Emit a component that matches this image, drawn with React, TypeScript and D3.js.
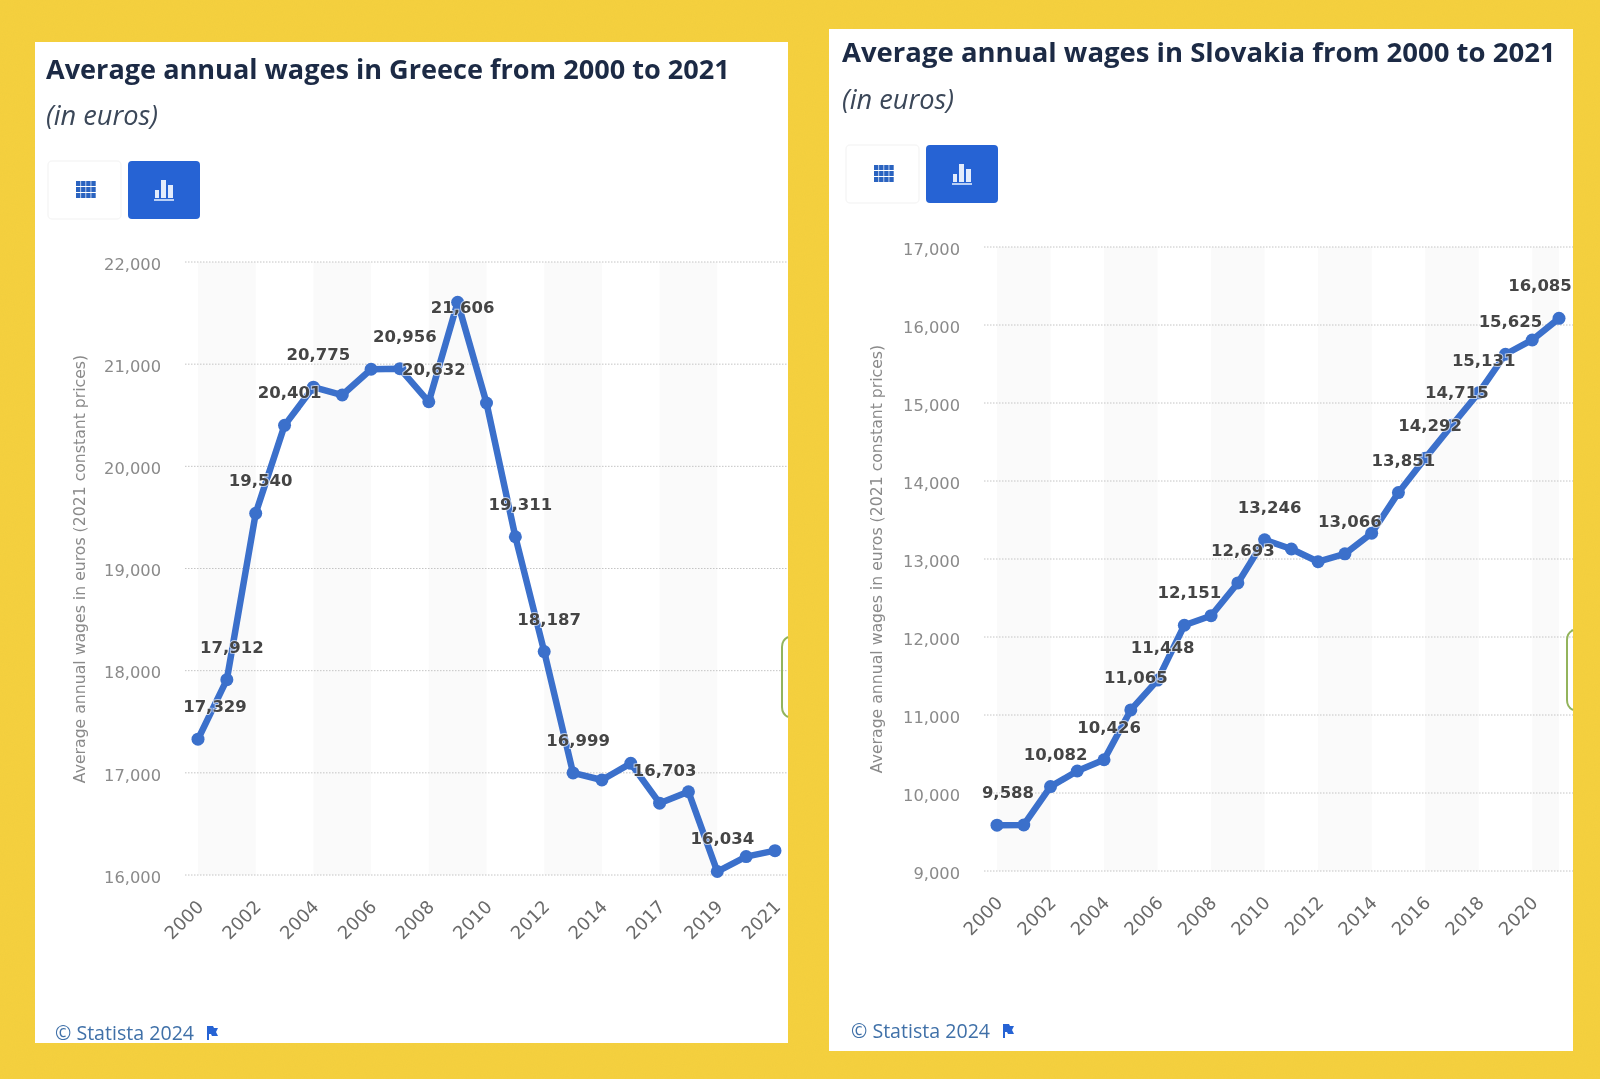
import React, { useEffect, useRef } from 'react';
import * as d3 from 'd3';

const greeceYears = [2000, 2001, 2002, 2003, 2004, 2005, 2006, 2007, 2008, 2009, 2010, 2011, 2012, 2013, 2014, 2015, 2017, 2018, 2019, 2020, 2021];
const greeceWages = [17329, 17912, 19540, 20401, 20775, 20698, 20950, 20956, 20632, 21606, 20620, 19311, 18187, 16999, 16930, 17093, 16703, 16815, 16034, 16180, 16238];
const greeceLabelled = [2000, 2001, 2002, 2003, 2004, 2007, 2008, 2009, 2011, 2012, 2013, 2017, 2019];
const greeceTicks = [16000, 17000, 18000, 19000, 20000, 21000, 22000];

const slovakiaYears = d3.range(2000, 2022);
const slovakiaWages = [9588, 9590, 10082, 10282, 10426, 11065, 11448, 12151, 12273, 12693, 13246, 13128, 12965, 13066, 13330, 13851, 14292, 14715, 15131, 15625, 15808, 16085];
const slovakiaLabelled = [2000, 2002, 2004, 2005, 2006, 2007, 2009, 2010, 2013, 2015, 2016, 2017, 2018, 2019, 2021];
const slovakiaTicks = [9000, 10000, 11000, 12000, 13000, 14000, 15000, 16000, 17000];

const AXIS_FONT = '"DejaVu Sans", sans-serif';
const TITLE_FONT = '"Open Sans", sans-serif';
const BLUE = '#3b6fcb';
const BUTTON_BLUE = '#2563d4';

const panels = [
  {
    title: 'Average annual wages in Greece from 2000 to 2021',
    titleSize: 27.1,
    years: greeceYears,
    wages: greeceWages,
    labelled: greeceLabelled,
    ticks: greeceTicks,
    box: { x: 35, y: 42, w: 753, h: 1001 },
    xRange: [198, 775],
    yRange: [875, 262],
    gridLeft: 185,
    titleBase: 79,
    subBase: 125,
    textX: 46,
    buttonY: 161,
    buttonX: 48,
    axisTitleX: 80,
    axisTitleY: 569,
    footX: 55,
    footBase: 1040,
    firstDx: 17,
    lastDx: 5,
    bracket: 637,
  },
  {
    title: 'Average annual wages in Slovakia from 2000 to 2021',
    titleSize: 27.5,
    years: slovakiaYears,
    wages: slovakiaWages,
    labelled: slovakiaLabelled,
    ticks: slovakiaTicks,
    box: { x: 829, y: 29, w: 744, h: 1022 },
    xRange: [997, 1559],
    yRange: [871, 247],
    gridLeft: 984,
    titleBase: 62,
    subBase: 109,
    textX: 842,
    buttonY: 145,
    buttonX: 846,
    axisTitleX: 877,
    axisTitleY: 559,
    footX: 851,
    footBase: 1038,
    firstDx: 11,
    lastDx: -19,
    bracket: 630,
  },
];

type Panel = (typeof panels)[number];

const drawPanel = (root: d3.Selection<SVGGElement, unknown, null, undefined>, p: Panel) => {
  const g = root.append('g');
  const { box } = p;
  const right = box.x + box.w;

  g.append('rect').attr('x', box.x).attr('y', box.y).attr('width', box.w).attr('height', box.h).attr('fill', '#fff');

  const x = d3.scalePoint<number>().domain(p.years).range(p.xRange as [number, number]);
  const y = d3.scaleLinear().domain(d3.extent(p.ticks) as [number, number]).range(p.yRange);

  // alternating bands, two categories wide, they stop at the last point
  const step = x.step();
  const bandYears = p.years.filter((_, i) => i % 4 === 0);
  g.selectAll('.band')
    .data(bandYears)
    .enter()
    .append('rect')
    .attr('x', (d) => x(d)!)
    .attr('y', y.range()[1])
    .attr('width', (d) => Math.min(step * 2, p.xRange[1] - x(d)!))
    .attr('height', y.range()[0] - y.range()[1])
    .attr('fill', '#fafafa');

  // grid lines
  g.selectAll('.grid')
    .data(p.ticks)
    .enter()
    .append('line')
    .attr('x1', p.gridLeft)
    .attr('x2', right)
    .attr('y1', (d) => y(d))
    .attr('y2', (d) => y(d))
    .attr('stroke', '#c4c4c4')
    .attr('stroke-width', 1)
    .attr('stroke-dasharray', '1.5 1.5');

  // y axis
  const yAxis = g
    .append('g')
    .attr('transform', `translate(${p.gridLeft - 24},2)`)
    .call(d3.axisLeft(y).tickValues(p.ticks).tickFormat(d3.format(',') as any).tickSize(0).tickPadding(0));
  yAxis.select('.domain').remove();
  yAxis
    .selectAll('text')
    .attr('font-family', AXIS_FONT)
    .attr('font-size', 16.3)
    .attr('fill', '#8a8a8a');

  // x axis
  const xAxis = g
    .append('g')
    .attr('transform', `translate(0,${y.range()[0]})`)
    .call(d3.axisBottom(x).tickValues(p.years.filter((_, i) => i % 2 === 0)).tickFormat(d3.format('d') as any).tickSize(0));
  xAxis.select('.domain').remove();
  xAxis
    .selectAll('text')
    .attr('font-family', AXIS_FONT)
    .attr('font-size', 18)
    .attr('fill', '#6b6b6b')
    .attr('text-anchor', 'end')
    .attr('dy', null)
    .attr('y', null)
    .attr('transform', 'translate(6,33) rotate(-45)');

  // y axis title
  g.append('text')
    .attr('transform', `translate(${p.axisTitleX},${p.axisTitleY}) rotate(-90)`)
    .attr('text-anchor', 'middle')
    .attr('dominant-baseline', 'middle')
    .attr('font-family', AXIS_FONT)
    .attr('font-size', 15.7)
    .attr('fill', '#8a8a8a')
    .text('Average annual wages in euros (2021 constant prices)');

  // series
  const points = p.years.map((year, i) => ({ year, value: p.wages[i] }));
  const line = d3
    .line<{ year: number; value: number }>()
    .x((d) => x(d.year)!)
    .y((d) => y(d.value));
  g.append('path')
    .attr('d', line(points)!)
    .attr('fill', 'none')
    .attr('stroke', BLUE)
    .attr('stroke-width', 6.5)
    .attr('stroke-linejoin', 'round');
  g.selectAll('.dot')
    .data(points)
    .enter()
    .append('circle')
    .attr('cx', (d) => x(d.year)!)
    .attr('cy', (d) => y(d.value))
    .attr('r', 6.5)
    .attr('fill', BLUE);

  // value labels, the chart shifts a few of them off the default spot
  const firstYear = p.years[0];
  const lastYear = p.years[p.years.length - 1];
  g.selectAll('.value')
    .data(points.filter((d) => p.labelled.includes(d.year)))
    .enter()
    .append('text')
    .attr('x', (d) => x(d.year)! + (d.year === firstYear ? p.firstDx : d.year === lastYear ? p.lastDx : 5))
    .attr('y', (d) => y(d.value) + (d.value === 21606 ? 5 : -33))
    .attr('dy', '0.36em')
    .attr('text-anchor', 'middle')
    .attr('font-family', AXIS_FONT)
    .attr('font-weight', 700)
    .attr('font-size', 16.5)
    .attr('fill', '#444')
    .attr('stroke', 'rgba(255,255,255,0.65)')
    .attr('stroke-width', 2)
    .attr('paint-order', 'stroke')
    .text((d) => d3.format(',')(d.value));

  // headings
  g.append('text')
    .attr('x', p.textX)
    .attr('y', p.titleBase)
    .attr('font-family', TITLE_FONT)
    .attr('font-weight', 700)
    .attr('font-size', p.titleSize)
    .attr('fill', '#1c2b45')
    .text(p.title);
  g.append('text')
    .attr('x', p.textX)
    .attr('y', p.subBase)
    .attr('font-family', TITLE_FONT)
    .attr('font-style', 'italic')
    .attr('font-size', 27.2)
    .attr('fill', '#3a4658')
    .text('(in euros)');

  // table / chart buttons
  const bx = p.buttonX;
  const by = p.buttonY;
  g.append('rect')
    .attr('x', bx)
    .attr('y', by)
    .attr('width', 73)
    .attr('height', 58)
    .attr('rx', 4)
    .attr('fill', '#fff')
    .attr('stroke', '#f6f6f6')
    .attr('stroke-width', 1.5);
  g.append('rect').attr('x', bx + 80).attr('y', by).attr('width', 72).attr('height', 58).attr('rx', 4).attr('fill', BUTTON_BLUE);

  const cells = d3.cross(d3.range(4), d3.range(3));
  g.selectAll('.cell')
    .data(cells)
    .enter()
    .append('rect')
    .attr('x', (d) => bx + 28 + d[0] * 5.1)
    .attr('y', (d) => by + 20 + d[1] * 6)
    .attr('width', 4.4)
    .attr('height', 5)
    .attr('fill', '#2a63c0');

  const barIcon = [
    { dx: 107, w: 4, h: 8 },
    { dx: 113, w: 5, h: 18 },
    { dx: 120, w: 5, h: 13 },
  ];
  g.selectAll('.bar')
    .data(barIcon)
    .enter()
    .append('rect')
    .attr('x', (d) => bx + d.dx)
    .attr('y', (d) => by + 37 - d.h)
    .attr('width', (d) => d.w)
    .attr('height', (d) => d.h)
    .attr('fill', '#e3ecfc');
  g.append('rect').attr('x', bx + 106).attr('y', by + 38).attr('width', 20).attr('height', 2).attr('fill', '#b9cff5');

  // footer
  g.append('text')
    .attr('x', p.footX)
    .attr('y', p.footBase)
    .attr('font-family', TITLE_FONT)
    .attr('font-size', 19.6)
    .attr('fill', '#3f70a8')
    .text('© Statista 2024');
  const fx = p.footX + 152;
  const fb = p.footBase;
  g.append('path')
    .attr('d', `M${fx},${fb} V${fb - 14} H${fx + 6} L${fx + 7},${fb - 12} H${fx + 11} L${fx + 9},${fb - 8} L${fx + 11},${fb - 4} H${fx + 5} L${fx + 4},${fb - 6} H${fx + 2} V${fb} Z`)
    .attr('fill', BUTTON_BLUE);

  // feedback tab sticking in from the right edge
  const t = p.bracket;
  g.append('path')
    .attr('d', `M${right},${t} Q${right - 6},${t + 3} ${right - 6},${t + 10} V${t + 70} Q${right - 6},${t + 77} ${right},${t + 80}`)
    .attr('fill', 'none')
    .attr('stroke', '#93b45c')
    .attr('stroke-width', 2);
};

const App: React.FC = () => {
  const ref = useRef<SVGSVGElement | null>(null);

  useEffect(() => {
    if (!ref.current) return;
    const svg = d3.select(ref.current);
    svg.selectAll('*').remove();

    const defs = svg.append('defs');
    const noise = defs.append('filter').attr('id', 'paper').attr('x', 0).attr('y', 0).attr('width', '100%').attr('height', '100%');
    noise.append('feTurbulence').attr('type', 'fractalNoise').attr('baseFrequency', 0.9).attr('numOctaves', 2).attr('seed', 4);
    noise.append('feColorMatrix').attr('values', '0 0 0 0 0.75  0 0 0 0 0.55  0 0 0 0 0.05  0 0 0 0.5 -0.12');
    // the source is a soft, re-compressed screenshot
    defs.append('filter').attr('id', 'soft').append('feGaussianBlur').attr('stdDeviation', 0.45);

    svg.append('rect').attr('width', 1600).attr('height', 1079).attr('fill', '#f5d03e');
    svg.append('rect').attr('width', 1600).attr('height', 1079).attr('filter', 'url(#paper)').attr('opacity', 0.5);

    const root = svg.append('g').attr('filter', 'url(#soft)') as unknown as d3.Selection<SVGGElement, unknown, null, undefined>;
    panels.forEach((p) => drawPanel(root, p));
  }, []);

  return <svg ref={ref} width={1600} height={1079} style={{ position: 'absolute', left: 0, top: 0 }}></svg>;
};

export default App;
